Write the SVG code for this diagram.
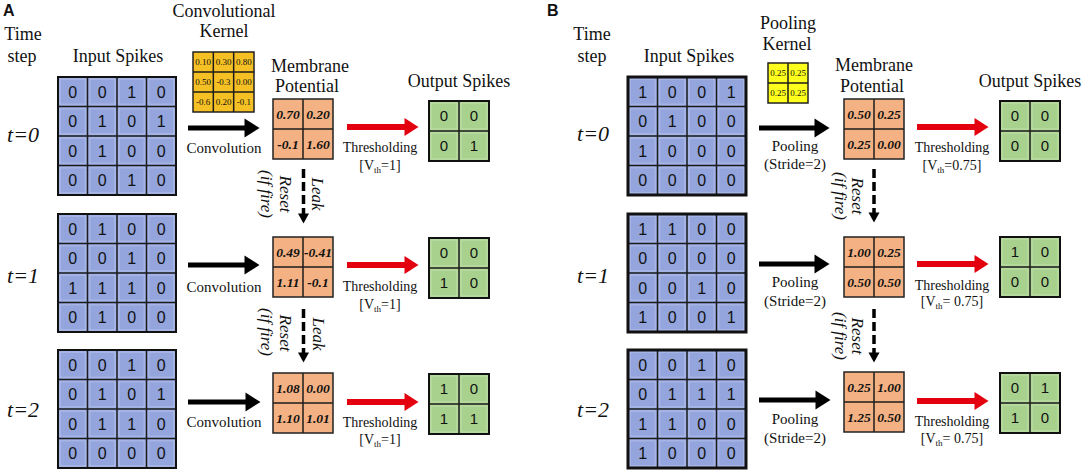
<svg xmlns="http://www.w3.org/2000/svg" width="1084" height="471" viewBox="0 0 1084 471">
<defs>
<style>
text{font-family:"Liberation Serif",serif;fill:#111;text-anchor:middle}
.pl{font-family:"Liberation Sans",sans-serif;font-weight:bold;font-size:16px;text-anchor:start}
.h{font-size:18px}
.ts{font-size:22px;font-style:italic}
.op{font-size:15px}
.th{font-size:14px}
.rt{font-size:17px;font-style:italic}
.dg{font-family:"Liberation Sans",sans-serif;font-size:16px}
.dg2{font-family:"Liberation Sans",sans-serif;font-size:15px}
.mv{font-size:13.5px;font-weight:bold;font-style:italic}
.kv{font-size:9px}
.gl{fill:none;stroke:#1c1c1c;stroke-width:1.5}
.ob{fill:none;stroke:#111;stroke-width:2}
.obb{fill:none;stroke:#111;stroke-width:3}
.ab{stroke:#000;stroke-width:5;fill:none}
.ar{stroke:#e3000f;stroke-width:6;fill:none}
.ad{stroke:#000;stroke-width:3.5;stroke-dasharray:9 4;fill:none}
.sub{font-size:9px}
</style>
<pattern id="pb" width="29.5" height="29.5" patternUnits="userSpaceOnUse"><rect width="29.5" height="29.5" fill="#93a5dc"/><rect x="2" y="2" width="25.5" height="25.5" fill="none" stroke="#b6c3ec" stroke-width="1"/></pattern>
<pattern id="pg" width="30" height="30" patternUnits="userSpaceOnUse"><rect width="30" height="30" fill="#a9d18e"/><rect x="2" y="2" width="26" height="26" fill="none" stroke="#c2e0ad" stroke-width="1"/></pattern>
<marker id="mb" markerUnits="userSpaceOnUse" markerWidth="16" markerHeight="19" refX="0.5" refY="9.5" orient="auto" overflow="visible"><path d="M0,0 L15,9.5 L0,19 z" fill="#000"/></marker>
<marker id="mr" markerUnits="userSpaceOnUse" markerWidth="15" markerHeight="18" refX="0.5" refY="9" orient="auto" overflow="visible"><path d="M0,0 L14,9 L0,18 z" fill="#e3000f"/></marker>
<marker id="md" markerUnits="userSpaceOnUse" markerWidth="11" markerHeight="11" refX="0.5" refY="5.5" orient="auto" overflow="visible"><path d="M0,0 L10,5.5 L0,11 z" fill="#000"/></marker>
</defs>
<rect width="1084" height="471" fill="#fff"/>

<!-- ===== Panel A labels ===== -->
<g id="A-panel-label"><text class="pl" x="3" y="16">A</text></g>
<g id="A-time-step"><text class="h" x="23" y="40">Time</text><text class="h" x="22" y="62">step</text></g>
<g id="A-input-title"><text class="h" x="118" y="62">Input Spikes</text></g>
<g id="A-kernel-title"><text class="h" x="224" y="17">Convolutional</text><text class="h" x="224" y="37">Kernel</text></g>
<g id="A-membrane-title"><text class="h" x="310" y="72">Membrane</text><text class="h" x="307" y="92">Potential</text></g>
<g id="A-output-title"><text class="h" x="459" y="87">Output Spikes</text></g>
<g id="A-t0"><text class="ts" x="23" y="142">t=0</text></g>
<g id="A-t1"><text class="ts" x="23" y="283">t=1</text></g>
<g id="A-t2"><text class="ts" x="23" y="417">t=2</text></g>

<!-- ===== Panel B labels ===== -->
<g id="B-panel-label"><text class="pl" x="547" y="16">B</text></g>
<g id="B-time-step"><text class="h" x="592" y="40">Time</text><text class="h" x="592" y="62">step</text></g>
<g id="B-input-title"><text class="h" x="689" y="62">Input Spikes</text></g>
<g id="B-kernel-title"><text class="h" x="788" y="29">Pooling</text><text class="h" x="787" y="50">Kernel</text></g>
<g id="B-membrane-title"><text class="h" x="874" y="71">Membrane</text><text class="h" x="872" y="92">Potential</text></g>
<g id="B-output-title"><text class="h" x="1030" y="87">Output Spikes</text></g>
<g id="B-t0"><text class="ts" x="593" y="141">t=0</text></g>
<g id="B-t1"><text class="ts" x="593" y="283">t=1</text></g>
<g id="B-t2"><text class="ts" x="593" y="417">t=2</text></g>

<!-- ===== Panel A input grids ===== -->
<g id="A-input-t0" transform="translate(58,77)">
<rect width="118" height="118" fill="url(#pb)"/>
<path class="gl" d="M29.5 0V118M59 0V118M88.5 0V118M0 29.5H118M0 59H118M0 88.5H118"/>
<rect class="ob" width="118" height="118"/>
<text class="dg" x="14.75" y="20.5">0</text><text class="dg" x="44.25" y="20.5">0</text><text class="dg" x="73.75" y="20.5">1</text><text class="dg" x="103.25" y="20.5">0</text>
<text class="dg" x="14.75" y="50">0</text><text class="dg" x="44.25" y="50">1</text><text class="dg" x="73.75" y="50">0</text><text class="dg" x="103.25" y="50">1</text>
<text class="dg" x="14.75" y="79.5">0</text><text class="dg" x="44.25" y="79.5">1</text><text class="dg" x="73.75" y="79.5">0</text><text class="dg" x="103.25" y="79.5">0</text>
<text class="dg" x="14.75" y="109">0</text><text class="dg" x="44.25" y="109">0</text><text class="dg" x="73.75" y="109">1</text><text class="dg" x="103.25" y="109">0</text>
</g>
<g id="A-input-t1" transform="translate(58,214)">
<rect width="118" height="118" fill="url(#pb)"/>
<path class="gl" d="M29.5 0V118M59 0V118M88.5 0V118M0 29.5H118M0 59H118M0 88.5H118"/>
<rect class="ob" width="118" height="118"/>
<text class="dg" x="14.75" y="20.5">0</text><text class="dg" x="44.25" y="20.5">1</text><text class="dg" x="73.75" y="20.5">0</text><text class="dg" x="103.25" y="20.5">0</text>
<text class="dg" x="14.75" y="50">0</text><text class="dg" x="44.25" y="50">0</text><text class="dg" x="73.75" y="50">1</text><text class="dg" x="103.25" y="50">0</text>
<text class="dg" x="14.75" y="79.5">1</text><text class="dg" x="44.25" y="79.5">1</text><text class="dg" x="73.75" y="79.5">1</text><text class="dg" x="103.25" y="79.5">0</text>
<text class="dg" x="14.75" y="109">0</text><text class="dg" x="44.25" y="109">1</text><text class="dg" x="73.75" y="109">0</text><text class="dg" x="103.25" y="109">0</text>
</g>
<g id="A-input-t2" transform="translate(58,350)">
<rect width="118" height="118" fill="url(#pb)"/>
<path class="gl" d="M29.5 0V118M59 0V118M88.5 0V118M0 29.5H118M0 59H118M0 88.5H118"/>
<rect class="ob" width="118" height="118"/>
<text class="dg" x="14.75" y="20.5">0</text><text class="dg" x="44.25" y="20.5">0</text><text class="dg" x="73.75" y="20.5">1</text><text class="dg" x="103.25" y="20.5">0</text>
<text class="dg" x="14.75" y="50">0</text><text class="dg" x="44.25" y="50">1</text><text class="dg" x="73.75" y="50">0</text><text class="dg" x="103.25" y="50">1</text>
<text class="dg" x="14.75" y="79.5">0</text><text class="dg" x="44.25" y="79.5">1</text><text class="dg" x="73.75" y="79.5">1</text><text class="dg" x="103.25" y="79.5">0</text>
<text class="dg" x="14.75" y="109">0</text><text class="dg" x="44.25" y="109">0</text><text class="dg" x="73.75" y="109">0</text><text class="dg" x="103.25" y="109">0</text>
</g>

<!-- ===== Panel A kernel ===== -->
<g id="A-kernel" transform="translate(193,52)">
<rect width="61" height="60" fill="#f5c024"/>
<path class="gl" stroke-width="1.2" d="M20.33 0V60M40.67 0V60M0 20H61M0 40H61"/>
<rect width="61" height="60" fill="none" stroke="#222" stroke-width="1.5"/>
<text class="kv" x="10.17" y="13.3">0.10</text><text class="kv" x="30.5" y="13.3">0.30</text><text class="kv" x="50.83" y="13.3">0.80</text>
<text class="kv" x="10.17" y="33.3">0.50</text><text class="kv" x="30.5" y="33.3">-0.3</text><text class="kv" x="50.83" y="33.3">0.00</text>
<text class="kv" x="10.17" y="53.3">-0.6</text><text class="kv" x="30.5" y="53.3">0.20</text><text class="kv" x="50.83" y="53.3">-0.1</text>
</g>

<!-- ===== Panel A membrane ===== -->
<g id="A-membrane-t0" transform="translate(273,99)">
<rect width="60" height="60" fill="#f4b183"/>
<path class="gl" d="M30 0V60M0 30H60"/><rect width="60" height="60" fill="none" stroke="#222" stroke-width="1.5"/>
<text class="mv" x="15" y="19.7">0.70</text><text class="mv" x="45" y="19.7">0.20</text>
<text class="mv" x="15" y="49.7">-0.1</text><text class="mv" x="45" y="49.7">1.60</text>
</g>
<g id="A-membrane-t1" transform="translate(273,237)">
<rect width="60" height="60" fill="#f4b183"/>
<path class="gl" d="M30 0V60M0 30H60"/><rect width="60" height="60" fill="none" stroke="#222" stroke-width="1.5"/>
<text class="mv" x="15" y="19.7">0.49</text><text class="mv" x="45" y="19.7">-0.41</text>
<text class="mv" x="15" y="49.7">1.11</text><text class="mv" x="45" y="49.7">-0.1</text>
</g>
<g id="A-membrane-t2" transform="translate(273,373)">
<rect width="60" height="60" fill="#f4b183"/>
<path class="gl" d="M30 0V60M0 30H60"/><rect width="60" height="60" fill="none" stroke="#222" stroke-width="1.5"/>
<text class="mv" x="15" y="19.7">1.08</text><text class="mv" x="45" y="19.7">0.00</text>
<text class="mv" x="15" y="49.7">1.10</text><text class="mv" x="45" y="49.7">1.01</text>
</g>

<!-- ===== Panel A outputs ===== -->
<g id="A-output-t0" transform="translate(429,101)">
<rect width="60" height="60" fill="url(#pg)"/>
<path class="gl" d="M30 0V60M0 30H60"/><rect class="ob" width="60" height="60"/>
<text class="dg2" x="15" y="20.4">0</text><text class="dg2" x="45" y="20.4">0</text>
<text class="dg2" x="15" y="50.4">0</text><text class="dg2" x="45" y="50.4">1</text>
</g>
<g id="A-output-t1" transform="translate(429,238)">
<rect width="60" height="60" fill="url(#pg)"/>
<path class="gl" d="M30 0V60M0 30H60"/><rect class="ob" width="60" height="60"/>
<text class="dg2" x="15" y="20.4">0</text><text class="dg2" x="45" y="20.4">0</text>
<text class="dg2" x="15" y="50.4">1</text><text class="dg2" x="45" y="50.4">0</text>
</g>
<g id="A-output-t2" transform="translate(429,374)">
<rect width="60" height="60" fill="url(#pg)"/>
<path class="gl" d="M30 0V60M0 30H60"/><rect class="ob" width="60" height="60"/>
<text class="dg2" x="15" y="20.4">1</text><text class="dg2" x="45" y="20.4">0</text>
<text class="dg2" x="15" y="50.4">1</text><text class="dg2" x="45" y="50.4">1</text>
</g>

<!-- ===== Panel B input grids ===== -->
<g id="B-input-t0" transform="translate(628,77)">
<rect width="118" height="118" fill="url(#pb)"/>
<path class="gl" d="M29.5 0V118M59 0V118M88.5 0V118M0 29.5H118M0 59H118M0 88.5H118"/>
<rect class="obb" width="118" height="118"/>
<text class="dg" x="14.75" y="20.5">1</text><text class="dg" x="44.25" y="20.5">0</text><text class="dg" x="73.75" y="20.5">0</text><text class="dg" x="103.25" y="20.5">1</text>
<text class="dg" x="14.75" y="50">0</text><text class="dg" x="44.25" y="50">1</text><text class="dg" x="73.75" y="50">0</text><text class="dg" x="103.25" y="50">0</text>
<text class="dg" x="14.75" y="79.5">1</text><text class="dg" x="44.25" y="79.5">0</text><text class="dg" x="73.75" y="79.5">0</text><text class="dg" x="103.25" y="79.5">0</text>
<text class="dg" x="14.75" y="109">0</text><text class="dg" x="44.25" y="109">0</text><text class="dg" x="73.75" y="109">0</text><text class="dg" x="103.25" y="109">0</text>
</g>
<g id="B-input-t1" transform="translate(628,214)">
<rect width="118" height="118" fill="url(#pb)"/>
<path class="gl" d="M29.5 0V118M59 0V118M88.5 0V118M0 29.5H118M0 59H118M0 88.5H118"/>
<rect class="obb" width="118" height="118"/>
<text class="dg" x="14.75" y="20.5">1</text><text class="dg" x="44.25" y="20.5">1</text><text class="dg" x="73.75" y="20.5">0</text><text class="dg" x="103.25" y="20.5">0</text>
<text class="dg" x="14.75" y="50">0</text><text class="dg" x="44.25" y="50">0</text><text class="dg" x="73.75" y="50">0</text><text class="dg" x="103.25" y="50">0</text>
<text class="dg" x="14.75" y="79.5">0</text><text class="dg" x="44.25" y="79.5">0</text><text class="dg" x="73.75" y="79.5">1</text><text class="dg" x="103.25" y="79.5">0</text>
<text class="dg" x="14.75" y="109">1</text><text class="dg" x="44.25" y="109">0</text><text class="dg" x="73.75" y="109">0</text><text class="dg" x="103.25" y="109">1</text>
</g>
<g id="B-input-t2" transform="translate(628,350)">
<rect width="118" height="118" fill="url(#pb)"/>
<path class="gl" d="M29.5 0V118M59 0V118M88.5 0V118M0 29.5H118M0 59H118M0 88.5H118"/>
<rect class="obb" width="118" height="118"/>
<text class="dg" x="14.75" y="20.5">0</text><text class="dg" x="44.25" y="20.5">0</text><text class="dg" x="73.75" y="20.5">1</text><text class="dg" x="103.25" y="20.5">0</text>
<text class="dg" x="14.75" y="50">0</text><text class="dg" x="44.25" y="50">1</text><text class="dg" x="73.75" y="50">1</text><text class="dg" x="103.25" y="50">1</text>
<text class="dg" x="14.75" y="79.5">1</text><text class="dg" x="44.25" y="79.5">1</text><text class="dg" x="73.75" y="79.5">0</text><text class="dg" x="103.25" y="79.5">0</text>
<text class="dg" x="14.75" y="109">1</text><text class="dg" x="44.25" y="109">0</text><text class="dg" x="73.75" y="109">0</text><text class="dg" x="103.25" y="109">0</text>
</g>

<!-- ===== Panel B kernel ===== -->
<g id="B-kernel" transform="translate(768,63)">
<rect width="40" height="40" fill="#ffff1e"/>
<path class="gl" stroke-width="1.2" d="M20 0V40M0 20H40"/>
<rect width="40" height="40" fill="none" stroke="#222" stroke-width="1.5"/>
<text class="kv" x="10" y="13.3">0.25</text><text class="kv" x="30" y="13.3">0.25</text>
<text class="kv" x="10" y="33.3">0.25</text><text class="kv" x="30" y="33.3">0.25</text>
</g>

<!-- ===== Panel B membrane ===== -->
<g id="B-membrane-t0" transform="translate(844,99)">
<rect width="60" height="60" fill="#f4b183"/>
<path class="gl" d="M30 0V60M0 30H60"/><rect width="60" height="60" fill="none" stroke="#222" stroke-width="1.5"/>
<text class="mv" x="15" y="19.7">0.50</text><text class="mv" x="45" y="19.7">0.25</text>
<text class="mv" x="15" y="49.7">0.25</text><text class="mv" x="45" y="49.7">0.00</text>
</g>
<g id="B-membrane-t1" transform="translate(844,237)">
<rect width="60" height="60" fill="#f4b183"/>
<path class="gl" d="M30 0V60M0 30H60"/><rect width="60" height="60" fill="none" stroke="#222" stroke-width="1.5"/>
<text class="mv" x="15" y="19.7">1.00</text><text class="mv" x="45" y="19.7">0.25</text>
<text class="mv" x="15" y="49.7">0.50</text><text class="mv" x="45" y="49.7">0.50</text>
</g>
<g id="B-membrane-t2" transform="translate(844,372)">
<rect width="60" height="60" fill="#f4b183"/>
<path class="gl" d="M30 0V60M0 30H60"/><rect width="60" height="60" fill="none" stroke="#222" stroke-width="1.5"/>
<text class="mv" x="15" y="19.7">0.25</text><text class="mv" x="45" y="19.7">1.00</text>
<text class="mv" x="15" y="49.7">1.25</text><text class="mv" x="45" y="49.7">0.50</text>
</g>

<!-- ===== Panel B outputs ===== -->
<g id="B-output-t0" transform="translate(1000,101)">
<rect width="60" height="60" fill="url(#pg)"/>
<path class="gl" d="M30 0V60M0 30H60"/><rect class="ob" width="60" height="60"/>
<text class="dg2" x="15" y="20.4">0</text><text class="dg2" x="45" y="20.4">0</text>
<text class="dg2" x="15" y="50.4">0</text><text class="dg2" x="45" y="50.4">0</text>
</g>
<g id="B-output-t1" transform="translate(1000,237)">
<rect width="60" height="60" fill="url(#pg)"/>
<path class="gl" d="M30 0V60M0 30H60"/><rect class="ob" width="60" height="60"/>
<text class="dg2" x="15" y="20.4">1</text><text class="dg2" x="45" y="20.4">0</text>
<text class="dg2" x="15" y="50.4">0</text><text class="dg2" x="45" y="50.4">0</text>
</g>
<g id="B-output-t2" transform="translate(1000,373)">
<rect width="60" height="60" fill="url(#pg)"/>
<path class="gl" d="M30 0V60M0 30H60"/><rect class="ob" width="60" height="60"/>
<text class="dg2" x="15" y="20.4">0</text><text class="dg2" x="45" y="20.4">1</text>
<text class="dg2" x="15" y="50.4">1</text><text class="dg2" x="45" y="50.4">0</text>
</g>

<!-- ===== Connectors ===== -->
<g id="connectors">
<line class="ab" x1="188" y1="128" x2="245" y2="128" marker-end="url(#mb)"/>
<line class="ab" x1="188" y1="265" x2="245" y2="265" marker-end="url(#mb)"/>
<line class="ab" x1="188" y1="402" x2="246" y2="402" marker-end="url(#mb)"/>
<line class="ar" x1="347" y1="127" x2="405" y2="127" marker-end="url(#mr)"/>
<line class="ar" x1="347" y1="265" x2="405" y2="265" marker-end="url(#mr)"/>
<line class="ar" x1="347" y1="402" x2="405" y2="402" marker-end="url(#mr)"/>
<line class="ad" x1="303.5" y1="169" x2="303.5" y2="214" marker-end="url(#md)"/>
<line class="ad" x1="303.5" y1="309" x2="303.5" y2="353" marker-end="url(#md)"/>
<line class="ab" x1="759" y1="128" x2="815" y2="128" marker-end="url(#mb)"/>
<line class="ab" x1="759" y1="264" x2="815" y2="264" marker-end="url(#mb)"/>
<line class="ab" x1="759" y1="400" x2="816" y2="400" marker-end="url(#mb)"/>
<line class="ar" x1="917" y1="127" x2="975" y2="127" marker-end="url(#mr)"/>
<line class="ar" x1="917" y1="264" x2="975" y2="264" marker-end="url(#mr)"/>
<line class="ar" x1="917" y1="401" x2="975" y2="401" marker-end="url(#mr)"/>
<line class="ad" x1="874" y1="169" x2="874" y2="213" marker-end="url(#md)"/>
<line class="ad" x1="874" y1="309" x2="874" y2="353" marker-end="url(#md)"/>
</g>

<!-- ===== Connector labels ===== -->
<g id="A-conv-label-t0"><text class="op" x="224" y="153">Convolution</text></g>
<g id="A-conv-label-t1"><text class="op" x="224" y="292">Convolution</text></g>
<g id="A-conv-label-t2"><text class="op" x="224" y="427">Convolution</text></g>
<g id="A-thr-label-t0"><text class="th" x="380" y="152">Thresholding</text><text class="th" x="380" y="170">[V<tspan class="sub" dy="3">th</tspan><tspan dy="-3">=1]</tspan></text></g>
<g id="A-thr-label-t1"><text class="th" x="380" y="291">Thresholding</text><text class="th" x="380" y="309">[V<tspan class="sub" dy="3">th</tspan><tspan dy="-3">=1]</tspan></text></g>
<g id="A-thr-label-t2"><text class="th" x="380" y="427">Thresholding</text><text class="th" x="380" y="444">[V<tspan class="sub" dy="3">th</tspan><tspan dy="-3">=1]</tspan></text></g>
<g id="A-leak-reset-1">
<text class="rt" transform="translate(312,194) rotate(90)">Leak</text>
<text class="rt" transform="translate(280,194) rotate(90)">Reset</text>
<text class="rt" transform="translate(261,194) rotate(90)">(if fire)</text>
</g>
<g id="A-leak-reset-2">
<text class="rt" transform="translate(313,334) rotate(90)">Leak</text>
<text class="rt" transform="translate(280,333) rotate(90)">Reset</text>
<text class="rt" transform="translate(261,332) rotate(90)">(if fire)</text>
</g>
<g id="B-pool-label-t0"><text class="op" x="795" y="151">Pooling</text><text class="op" x="795" y="169">(Stride=2)</text></g>
<g id="B-pool-label-t1"><text class="op" x="795" y="287">Pooling</text><text class="op" x="795" y="306">(Stride=2)</text></g>
<g id="B-pool-label-t2"><text class="op" x="795" y="424">Pooling</text><text class="op" x="795" y="443">(Stride=2)</text></g>
<g id="B-thr-label-t0"><text class="th" x="952" y="152">Thresholding</text><text class="th" x="952" y="170">[V<tspan class="sub" dy="3">th</tspan><tspan dy="-3">=0.75]</tspan></text></g>
<g id="B-thr-label-t1"><text class="th" x="952" y="290">Thresholding</text><text class="th" x="952" y="306">[V<tspan class="sub" dy="3">th</tspan><tspan dy="-3">= 0.75]</tspan></text></g>
<g id="B-thr-label-t2"><text class="th" x="952" y="426">Thresholding</text><text class="th" x="952" y="443">[V<tspan class="sub" dy="3">th</tspan><tspan dy="-3">= 0.75]</tspan></text></g>
<g id="B-reset-1">
<text class="rt" transform="translate(852,196) rotate(90)">Reset</text>
<text class="rt" transform="translate(835,196) rotate(90)">(if fire)</text>
</g>
<g id="B-reset-2">
<text class="rt" transform="translate(852,336) rotate(90)">Reset</text>
<text class="rt" transform="translate(835,336) rotate(90)">(if fire)</text>
</g>
</svg>
